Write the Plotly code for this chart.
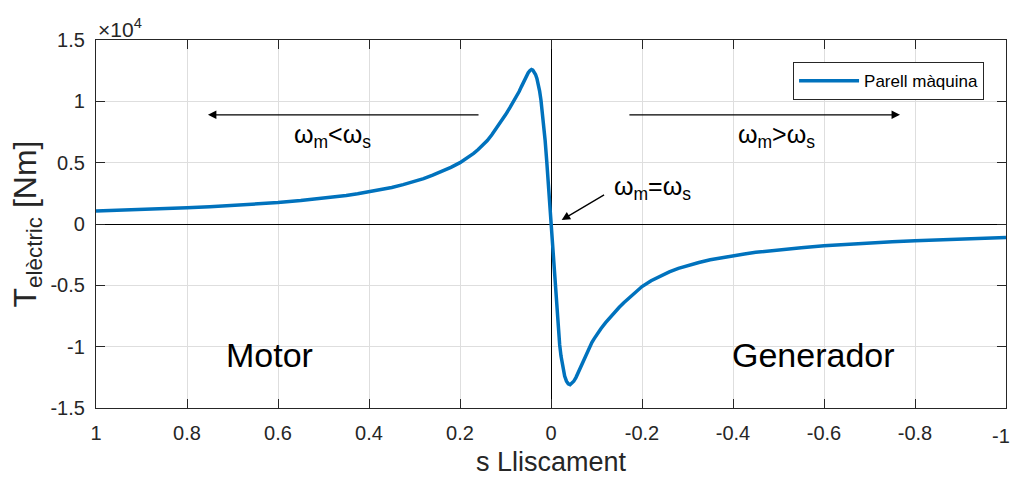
import numpy as np
import plotly.graph_objects as go

# Slip (s) and electrical torque (in units of 1e4 Nm), motor side then generator side
slip = [1.0, 0.95, 0.9, 0.85, 0.8, 0.75, 0.7, 0.65, 0.6, 0.55, 0.5, 0.475, 0.45,
        0.425, 0.4, 0.375, 0.35, 0.325, 0.3, 0.28, 0.26, 0.24, 0.22,
        0.2, 0.19, 0.18, 0.17, 0.16, 0.15, 0.14, 0.13, 0.12, 0.11, 0.10, 0.09, 0.08,
        0.075, 0.07, 0.065, 0.06, 0.055, 0.05, 0.046, 0.043, 0.040, 0.037, 0.034,
        0.031, 0.028, 0.025, 0.022, 0.019, 0.016, 0.013, 0.0095, 0.006, 0.003, 0.0,
        -0.003, -0.006, -0.0095, -0.013, -0.016, -0.019, -0.022, -0.026, -0.030,
        -0.034, -0.038, -0.042, -0.046, -0.050, -0.055, -0.060, -0.065, -0.07,
        -0.075, -0.08, -0.085, -0.09, -0.095, -0.10, -0.11, -0.12, -0.13, -0.14,
        -0.15, -0.16, -0.17, -0.18, -0.19, -0.2, -0.22, -0.24, -0.26, -0.28, -0.3,
        -0.325, -0.35, -0.375, -0.4, -0.425, -0.45, -0.475, -0.5, -0.55, -0.6,
        -0.65, -0.7, -0.75, -0.8, -0.85, -0.9, -0.95, -1.0]
torque_e4 = [0.106, 0.111, 0.117, 0.124, 0.132, 0.140, 0.150, 0.161, 0.175, 0.191,
             0.21, 0.221, 0.233, 0.247, 0.262, 0.279, 0.298, 0.321, 0.347,
             0.37, 0.398, 0.428, 0.462, 0.50, 0.523, 0.548, 0.576, 0.607, 0.642,
             0.68, 0.727, 0.778, 0.833, 0.89, 0.95, 1.01, 1.045, 1.08, 1.12, 1.16,
             1.20, 1.233, 1.252, 1.26, 1.254, 1.241, 1.219, 1.187, 1.142, 1.083,
             1.008, 0.917, 0.809, 0.685, 0.519, 0.338, 0.171, 0.0,
             -0.186, -0.367, -0.564, -0.74, -0.872, -0.984, -1.077, -1.173, -1.239,
             -1.281, -1.303, -1.31, -1.30, -1.282, -1.25, -1.21, -1.165, -1.12,
             -1.077, -1.037, -1.0, -0.965, -0.934, -0.905, -0.852, -0.804, -0.760,
             -0.718, -0.679, -0.642, -0.607, -0.572, -0.540, -0.510, -0.462, -0.423,
             -0.390, -0.362, -0.338, -0.314, -0.292, -0.274, -0.258, -0.244, -0.231,
             -0.220, -0.21, -0.193, -0.177, -0.164, -0.153, -0.144, -0.136, -0.129,
             -0.122, -0.1155, -0.11]

x_ticks = [1, 0.8, 0.6, 0.4, 0.2, 0, -0.2, -0.4, -0.6, -0.8, -1]
x_tick_text = ["1", "0.8", "0.6", "0.4", "0.2", "0", "-0.2", "-0.4", "-0.6", "-0.8", "-1"]
y_ticks = [-1.5, -1, -0.5, 0, 0.5, 1, 1.5]
y_tick_text = ["-1.5", "-1", "-0.5", "0", "0.5", "1", "1.5"]

torque_nm = np.array(torque_e4) * 1e4

FONT = "Liberation Sans, Arial, sans-serif"
AX = "#262626"
TICK_SIZE = 20

fig = go.Figure()
fig.add_trace(go.Scatter(
    x=slip, y=torque_nm, mode="lines", name="Parell màquina",
    line=dict(color="#0072BD", width=3.5),
))

axis_common = dict(
    showgrid=True, gridcolor="#dedede", gridwidth=1,
    zeroline=True, zerolinecolor="black", zerolinewidth=1.3,
    showline=True, linecolor=AX, linewidth=1.2, mirror="allticks",
    ticks="inside", ticklen=9, tickcolor=AX, tickwidth=1,
    tickfont=dict(family=FONT, size=TICK_SIZE, color=AX),
    automargin=False,
)

# the last x label sits at the page edge, so it is placed right-aligned separately
x_text_axis = x_tick_text[:-1] + [""]

fig.update_xaxes(
    range=[1, -1], tickvals=x_ticks, ticktext=x_text_axis,
    ticklabelstandoff=7,
    title=dict(text="s Lliscament", font=dict(family=FONT, size=27, color=AX), standoff=9),
    **axis_common,
)
fig.update_yaxes(
    range=[-1.5e4, 1.5e4], tickvals=[v * 1e4 for v in y_ticks], ticktext=y_tick_text,
    ticklabelstandoff=6,
    title=dict(text="T<sub>elèctric</sub> [Nm]", font=dict(family=FONT, size=32, color=AX),
               standoff=4),
    **axis_common,
)

annotations = [
    # exponent marker
    dict(xref="paper", yref="paper", x=0, y=1, xanchor="left", yanchor="bottom",
         text="×10<sup>4</sup>", showarrow=False, yshift=-3,
         font=dict(family=FONT, size=21, color=AX)),
    # last x tick label
    dict(xref="x", yref="paper", x=x_ticks[-1], y=0, xanchor="right", yanchor="top",
         xshift=6, yshift=-15, text=x_tick_text[-1], showarrow=False,
         font=dict(family=FONT, size=TICK_SIZE, color=AX)),
    # direction arrows
    dict(x=0.754, y=0.89e4, ax=0.156, ay=0.89e4, xref="x", yref="y", axref="x", ayref="y",
         text="", showarrow=True, arrowhead=2, arrowsize=1.3, arrowwidth=1.3, arrowcolor="black"),
    dict(x=-0.767, y=0.89e4, ax=-0.169, ay=0.89e4, xref="x", yref="y", axref="x", ayref="y",
         text="", showarrow=True, arrowhead=2, arrowsize=1.3, arrowwidth=1.3, arrowcolor="black"),
    dict(x=-0.0235, y=0.033e4, ax=-0.12, ay=0.245e4, xref="x", yref="y", axref="x", ayref="y",
         text="", showarrow=True, arrowhead=2, arrowsize=1.3, arrowwidth=1.3, arrowcolor="black"),
    # labels
    dict(x=0.480, y=0.72e4, text="ω<sub>m</sub><ω<sub>s</sub>", showarrow=False,
         font=dict(family=FONT, size=25, color="black")),
    dict(x=-0.495, y=0.72e4, text="ω<sub>m</sub>>ω<sub>s</sub>", showarrow=False,
         font=dict(family=FONT, size=25, color="black")),
    dict(x=-0.222, y=0.29e4, text="ω<sub>m</sub>=ω<sub>s</sub>", showarrow=False,
         font=dict(family=FONT, size=25, color="black")),
    dict(x=0.618, y=-1.07e4, text="Motor", showarrow=False,
         font=dict(family=FONT, size=34, color="black")),
    dict(x=-0.576, y=-1.07e4, text="Generador", showarrow=False,
         font=dict(family=FONT, size=34, color="black")),
]

fig.update_layout(
    width=1012, height=479,
    margin=dict(l=96, r=6, t=40, b=71),
    paper_bgcolor="white", plot_bgcolor="white",
    showlegend=True,
    legend=dict(x=0.766, y=0.94, xanchor="left", yanchor="top",
                bordercolor=AX, borderwidth=1, bgcolor="white",
                font=dict(family=FONT, size=17, color="black"),
                itemwidth=60),
    annotations=annotations,
)

fig.write_html("out.html")
